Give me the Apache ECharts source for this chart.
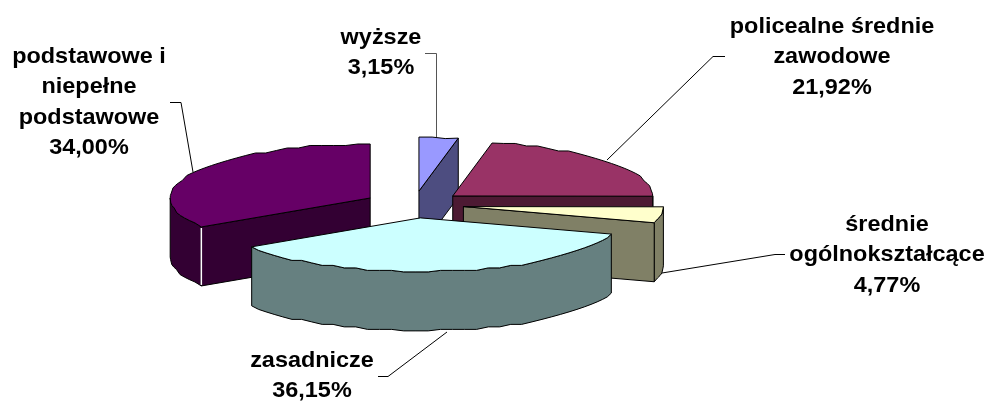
<!DOCTYPE html>
<html>
<head>
<meta charset="utf-8">
<style>
  html, body { margin: 0; padding: 0; background: #fff; }
  #chart { width: 987px; height: 401px; }
</style>
<script src="https://cdn.jsdelivr.net/npm/echarts@6/dist/echarts.min.js"></script>
</head>
<body>
<div id="chart"></div>
<script>
const categories = ["wyższe", "policealne średnie zawodowe", "średnie ogólnokształcące", "zasadnicze", "podstawowe i niepełne podstawowe"];
const shares = [3.15, 21.92, 4.77, 36.15, 34.00];
const topColors = ["#9999ff", "#993366", "#ffffcc", "#ccffff", "#660066"];
const wallColors = ["#4d4d80", "#4d1a33", "#808066", "#668080", "#330033"];
// back to front, so nearer slices cover the ones behind
const paintOrder = [1, 2, 3, 4, 0];

const labelLines = [
  ["wyższe", "3,15%"],
  ["policealne średnie", "zawodowe", "21,92%"],
  ["średnie", "ogólnokształcące", "4,77%"],
  ["zasadnicze", "36,15%"],
  ["podstawowe i", "niepełne", "podstawowe", "34,00%"]
];
const labelCentres = [[381, 38], [832, 27], [887, 225], [312, 361], [89, 57]];
const labelSpacing = 30.5;
const leaders = [
  [[425, 53.5], [436.5, 53.5], [436.5, 137]],
  [[725, 56.5], [713, 56.5], [607, 160]],
  [[785, 254.5], [775, 254.5], [662, 273]],
  [[378, 376.5], [388, 376.5], [447, 332]],
  [[170, 102.5], [181, 102.5], [193, 172]]
];

const pie = { cx: 414, cy: 204.5, rx: 200, ry: 54, depth: 59, explode: 50 };
const total = shares.reduce((a, b) => a + b, 0);
const rad = d => d * Math.PI / 180;

// angles run clockwise from north
function point(c, deg) {
  return [c[0] + pie.rx * Math.sin(rad(deg)), c[1] - pie.ry * Math.cos(rad(deg))];
}

// the rim of the original is a coarse, slightly stepped polygon
function rimPoints(c, from, to) {
  const pts = [point(c, from)];
  const steps = Math.max(1, Math.round((to - from) / 3.5));
  for (let i = 1; i < steps; i++) {
    const p = point(c, from + (to - from) * i / steps);
    const dy = Math.round((p[1] - c[1]) / 2.5) * 2.5;
    pts.push([p[0], c[1] + Math.max(-pie.ry, Math.min(pie.ry, dy))]);
  }
  pts.push(point(c, to));
  return pts;
}

function wall(pts, fill, z2) {
  const down = pts.slice().reverse().map(p => [p[0], p[1] + pie.depth]);
  return {
    type: "polygon",
    z2: z2,
    shape: { points: pts.concat(down) },
    style: { fill: fill, stroke: "#000", lineWidth: 1 }
  };
}

function renderSlice(params) {
  const i = params.dataIndex;
  const before = shares.slice(0, i).reduce((a, b) => a + b, 0);
  const start = before / total * 360;
  const end = (before + shares[i]) / total * 360;
  const mid = (start + end) / 2;
  const apex = [
    pie.cx + pie.explode * Math.sin(rad(mid)),
    pie.cy - pie.explode * pie.ry / pie.rx * Math.cos(rad(mid))
  ];
  const z = paintOrder[i] * 10;
  const children = [];

  const arcFrom = Math.max(start, 90);
  const arcTo = Math.min(end, 270);
  if (arcTo > arcFrom) {
    children.push(wall(rimPoints(apex, arcFrom, arcTo), wallColors[i], z));
  }
  if (start > 180) {
    children.push(wall([apex, point(apex, start)], wallColors[i], z + 1));
  }
  if (end < 180) {
    children.push(wall([apex, point(apex, end)], wallColors[i], z + 1));
  }
  children.push({
    type: "polygon",
    z2: z + 2,
    shape: { points: [apex].concat(rimPoints(apex, start, end)) },
    style: { fill: topColors[i], stroke: "#000", lineWidth: 1 }
  });
  // light seam on the corner of the purple slice
  if (start > 180) {
    const p = point(apex, start);
    children.push({
      type: "line",
      z2: z + 3,
      shape: { x1: p[0], y1: p[1] + 1, x2: p[0], y2: p[1] + pie.depth - 1 },
      style: { stroke: "#fff", lineWidth: 1.5 }
    });
  }
  return { type: "group", children: children };
}

const chart = echarts.init(document.getElementById("chart"), null, { renderer: "canvas" });

const graphics = [];
leaders.forEach((pts, i) => {
  graphics.push({
    type: "polyline",
    z: 5,
    shape: { points: pts },
    style: { fill: null, stroke: i === 0 ? "#555" : "#000", lineWidth: 1 }
  });
});
labelLines.forEach((lines, i) => {
  lines.forEach((line, j) => {
    graphics.push({
      type: "text",
      z: 6,
      x: labelCentres[i][0],
      y: labelCentres[i][1] + j * labelSpacing,
      scaleX: 1.09,
      style: {
        text: line,
        fill: "#000",
        font: 'bold 21.5px "Liberation Sans", Arial, sans-serif',
        textAlign: "center",
        textVerticalAlign: "middle"
      }
    });
  });
});

chart.setOption({
  animation: false,
  backgroundColor: "#fff",
  graphic: graphics,
  series: [{
    type: "custom",
    name: "wykształcenie",
    coordinateSystem: "none",
    silent: true,
    renderItem: renderSlice,
    data: shares.map((v, i) => ({ name: categories[i], value: v }))
  }]
});
</script>
</body>
</html>
